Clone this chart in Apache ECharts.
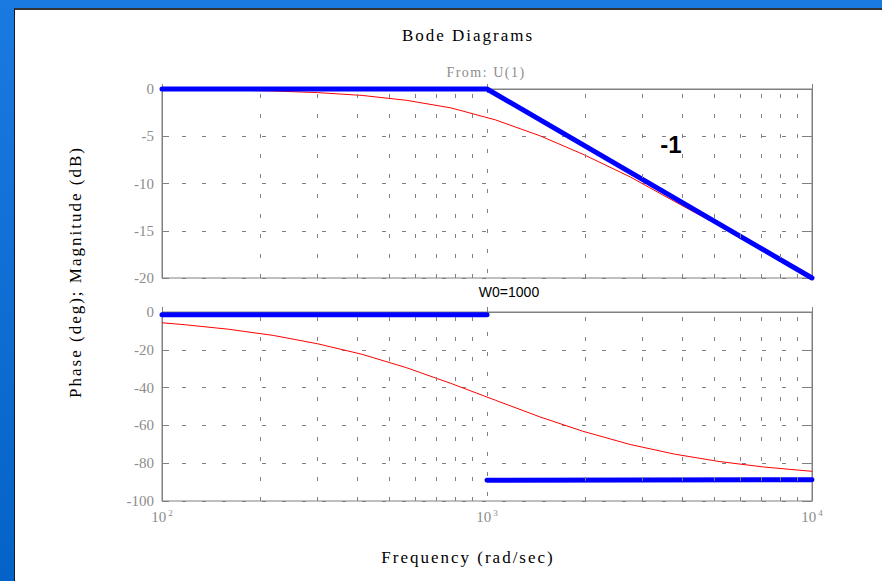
<!DOCTYPE html>
<html><head><meta charset="utf-8">
<script src="https://cdn.jsdelivr.net/npm/echarts@6/dist/echarts.min.js"></script>
<style>
html,body{margin:0;padding:0;width:882px;height:581px;overflow:hidden;background:linear-gradient(#1b7ae2,#0462c8);}
#panel{position:absolute;left:14px;top:8px;right:0;bottom:0;background:#fff;border-left:1px solid #1a1a1a;border-top:2px solid #333;}
#chart{position:absolute;left:0;top:0;width:882px;height:581px;}
#chart text[style*="17px"], #chart text[font-size*="17"]{letter-spacing:2px;}
#chart text[style*="14px"][style*="Serif"]{letter-spacing:1.5px;}
</style></head>
<body><div id="panel"></div><div id="chart"></div>
<script>
// frequency samples (rad/sec)
const freq = [100, 117, 160, 220, 301, 413, 566, 775, 1062, 1455, 1972, 2757, 3777, 5175, 7090, 10000];
// magnitude (dB)
const magDb = [-0.04, -0.06, -0.11, -0.21, -0.38, -0.68, -1.2, -2.0, -3.27, -4.95, -6.9, -9.3, -11.9, -14.45, -17.1, -20.0];
// phase (deg)
const phaseDeg = [-5.7, -6.7, -9.1, -12.4, -16.8, -22.4, -29.5, -37.8, -46.7, -55.5, -63.1, -70.1, -75.2, -79.1, -82.0, -84.3];
// asymptotes
const magAsymFreq = [100, 1000, 10000];
const magAsymDb = [0, 0, -20];
const phaseLowFreq = [100, 1000];
const phaseLowDeg = [-1.4, -1.4];
const phaseHighFreq = [1000, 10000];
const phaseHighDeg = [-89, -88.7];
// axes
const freqMin = 100, freqMax = 10000;
const magMin = -20, magMax = 0, magStep = 5;
const phaseMin = -100, phaseMax = 0, phaseStep = 20;
const minorFreqs = [200, 300, 400, 500, 600, 700, 800, 900, 2000, 3000, 4000, 5000, 6000, 7000, 8000, 9000];
// texts
const titleText = 'Bode Diagrams';
const subTitleText = 'From: U(1)';
const slopeText = '-1';
const cornerText = 'W0=1000';
const yNameText = 'Phase (deg); Magnitude (dB)';
const xNameText = 'Frequency (rad/sec)';

const zip = (xs, ys) => xs.map((x, i) => [x, ys[i]]);
const GRAY = '#808080';
const LABEL = '#8c8c8c';
const SERIF = 'Liberation Serif';

const minorMarkLine = {
  silent: true, symbol: ['none', 'none'], label: { show: false },
  lineStyle: { color: GRAY, type: [4, 16], width: 1 },
  emphasis: { disabled: true }, animation: false,
  data: minorFreqs.map(f => ({ xAxis: f }))
};

function xAx(gi, showLabels) {
  return {
    type: 'log', logBase: 10, min: freqMin, max: freqMax, gridIndex: gi,
    axisLine: { show: true, lineStyle: { color: GRAY, width: 1 } },
    axisTick: { show: true, inside: true, length: 5, lineStyle: { color: GRAY } },
    splitLine: { show: true, lineStyle: { color: GRAY, type: [4, 16], width: 1 } },
    axisLabel: {
      show: showLabels, margin: 7,
      formatter: v => '{b|10}{s|' + Math.round(Math.log10(v)) + '}',
      rich: {
        b: { fontFamily: SERIF, fontSize: 15, color: LABEL },
        s: { fontFamily: SERIF, fontSize: 9, color: LABEL, verticalAlign: 'top', padding: [0, 0, 9, 2] }
      }
    }
  };
}
function yAx(gi, min, max, step, right) {
  return {
    type: 'value', gridIndex: gi, min: min, max: max, interval: step,
    position: right ? 'right' : 'left',
    axisLine: { show: true, lineStyle: { color: GRAY, width: 1 } },
    axisTick: { show: true, inside: true, length: 7, lineStyle: { color: GRAY } },
    splitLine: { show: !right, lineStyle: { color: GRAY, type: [4, 16], width: 1 } },
    axisLabel: { show: !right, color: LABEL, fontFamily: SERIF, fontSize: 15, margin: 8 }
  };
}
const blueStyle = { color: '#0000ff', width: 5, cap: 'round', join: 'round' };

const chart = echarts.init(document.getElementById('chart'), null, { renderer: 'svg' });
chart.setOption({
  backgroundColor: 'transparent',
  animation: false,
  grid: [
    { left: 162, top: 89, width: 650, height: 189, show: true, borderColor: GRAY, borderWidth: 1, backgroundColor: 'transparent' },
    { left: 162, top: 312, width: 650, height: 189, show: true, borderColor: GRAY, borderWidth: 1, backgroundColor: 'transparent' }
  ],
  xAxis: [xAx(0, false), xAx(1, true)],
  yAxis: [
    yAx(0, magMin, magMax, magStep, false), yAx(0, magMin, magMax, magStep, true),
    yAx(1, phaseMin, phaseMax, phaseStep, false), yAx(1, phaseMin, phaseMax, phaseStep, true)
  ],
  series: [
    { type: 'line', xAxisIndex: 0, yAxisIndex: 0, data: zip(freq, magDb), showSymbol: false, symbol: 'none',
      lineStyle: { color: '#ff0000', width: 1 }, markLine: minorMarkLine, z: 3 },
    { type: 'line', xAxisIndex: 0, yAxisIndex: 0, data: zip(magAsymFreq, magAsymDb), showSymbol: false, symbol: 'none',
      clip: false, lineStyle: blueStyle, z: 4 },
    { type: 'line', xAxisIndex: 1, yAxisIndex: 2, data: zip(freq, phaseDeg), showSymbol: false, symbol: 'none',
      lineStyle: { color: '#ff0000', width: 1 }, markLine: minorMarkLine, z: 3 },
    { type: 'line', xAxisIndex: 1, yAxisIndex: 2, data: zip(phaseLowFreq, phaseLowDeg), showSymbol: false, symbol: 'none',
      clip: false, lineStyle: blueStyle, z: 4 },
    { type: 'line', xAxisIndex: 1, yAxisIndex: 2, data: zip(phaseHighFreq, phaseHighDeg), showSymbol: false, symbol: 'none',
      clip: false, lineStyle: blueStyle, z: 4 }
  ],
  graphic: [
    { type: 'text', x: 468, y: 35, style: { text: titleText, font: '17px "Liberation Serif"', fill: '#000', align: 'center', verticalAlign: 'middle' } },
    { type: 'text', x: 486, y: 72, style: { text: subTitleText, font: '14px "Liberation Serif"', fill: LABEL, align: 'center', verticalAlign: 'middle' } },
    { type: 'text', x: 671, y: 144, style: { text: slopeText, font: 'bold 24px "Liberation Sans"', fill: '#000', align: 'center', verticalAlign: 'middle' } },
    { type: 'text', x: 509, y: 292, style: { text: cornerText, font: '14px "Liberation Sans"', fill: '#000', align: 'center', verticalAlign: 'middle' } },
    { type: 'text', x: 75, y: 272, rotation: Math.PI / 2, style: { text: yNameText, font: '17px "Liberation Serif"', fill: '#000', align: 'center', verticalAlign: 'middle' } },
    { type: 'text', x: 468, y: 557, style: { text: xNameText, font: '17px "Liberation Serif"', fill: '#000', align: 'center', verticalAlign: 'middle' } }
  ]
});
</script>
</body></html>
